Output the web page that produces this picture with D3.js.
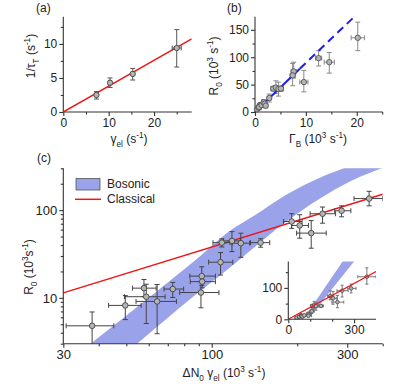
<!DOCTYPE html>
<html>
<head>
<meta charset="utf-8">
<script src="https://cdn.jsdelivr.net/npm/d3@7"></script>
<style>
body { margin: 0; background: #fff; }
text { font-family: "Liberation Sans", Arial, sans-serif; fill: #222; }
</style>
</head>
<body>
<div id="chart"></div>
<script>
// ---- panel (a)
var aGamma = [7.3, 10.3, 15.3, 25.0];
var aGammaErr = [0.3, 0.3, 0.3, 1.0];
var aRate = [2.5, 4.3, 5.6, 9.4];
var aRateLo = [1.9, 3.6, 4.7, 6.6];
var aRateHi = [3.0, 5.0, 6.4, 12.1];
var aLineX = [0, 28.3];
var aLineY = [0, 10.75];

// ---- panel (c) points, also used by (b) and the inset
var cX = [37.9, 49.6, 57.7, 58.8, 64.2, 72.9, 92.2, 92.5, 91.6, 107.4, 108.5, 117.8, 126.6, 148.6, 191.2, 204.1, 224, 245.6, 286.6, 358.3];
var cXLo = [30.7, 43.3, 52.6, 49.3, 54.1, 67.9, 83.7, 84, 77.1, 97.5, 101, 110, 118, 137, 179, 191, 199, 222, 271, 317];
var cXHi = [45.2, 56.4, 63.7, 68.5, 75.1, 79.6, 103, 103, 106, 118.6, 116, 126, 136, 160, 208, 219, 253, 273, 309, 400];
var cR = [4.8, 8.2, 12.9, 10.3, 9.1, 12.6, 17.7, 15.3, 11.5, 25.5, 42.6, 44.6, 42.0, 42.6, 74.2, 66.9, 54.7, 91, 98.4, 135.5];
var cRLo = [2.9, 5.65, 10.3, 5.1, 3.9, 10.1, 13.9, 13, 7.7, 18.2, 38, 33.7, 29.0, 37.8, 62, 47.9, 36.8, 71, 84, 112];
var cRHi = [6.9, 10.6, 16.2, 14.3, 14.2, 15.0, 22.6, 18, 15.3, 32.8, 47, 56.9, 54.6, 47.3, 91, 88.7, 76, 108.5, 112, 164];

// ---- panel (b) Gamma_B for the same points
var bGamma = [0.4, 0.6, 1.0, 0.9, 0.8, 1.3, 1.7, 1.9, 2.1, 2.8, 3.6, 4.1, 4.6, 5.1, 7.6, 7.4, 9.6, 14.6, 12.5, 20.2];
var bGammaErr = [0.3, 0.3, 0.3, 0.3, 0.3, 0.3, 0.4, 0.4, 0.4, 0.4, 0.5, 0.5, 0.5, 0.5, 0.5, 0.5, 0.8, 1.0, 0.6, 1.3];
var bSolidX = [0, 8.8], bSolidY = [0, 79];
var bDashX = [8.8, 19.3], bDashY = [79, 172];

// ---- theory curves of (c)
var bosUpperX = [37, 60, 90, 115, 140, 183, 239, 300];
var bosUpperY = [2.9, 10, 29, 57, 85, 150, 233, 310];
var bosLowerX = [54, 80, 115, 140, 183, 239, 313, 400];
var bosLowerY = [2.9, 8.5, 21.7, 36.8, 74, 134, 219, 303];
// band as it appears in the linear inset
var insetUpperX = [94, 113, 248, 262];
var insetUpperY = [25, 45, 184, 198];
var insetLowerX = [118, 150, 300, 316];
var insetLowerY = [25, 53, 184, 198];
var classX = [0, 30, 400];
var classY = [0, 11.4, 152];

var bandColor = '#9aa2ea';
var redColor = '#ee1515';

var svg = d3.select('#chart').append('svg')
    .attr('width', 415)
    .attr('height', 384);

function richText(sel, parts, size) {
    var shift = 0;
    parts.forEach(function (p) {
        var k = p[1] || 'n';
        var target = k == 'sub' ? size * 0.3 : k == 'sup' ? -size * 0.4 : 0;
        sel.append('tspan')
            .attr('dy', target - shift)
            .attr('font-size', k == 'n' ? size : size * 0.68)
            .text(p[0]);
        shift = target;
    });
}

function axes(g, x, y, xMajor, xMinor, yMajor, yMinor, fs) {
    var h = y.range()[0];
    var gx = g.append('g').attr('transform', 'translate(0,' + h + ')')
        .call(d3.axisBottom(x).tickValues(xMajor).tickSize(4).tickSizeOuter(0).tickPadding(2).tickFormat(d3.format('')));
    var gxm = g.append('g').attr('transform', 'translate(0,' + h + ')')
        .call(d3.axisBottom(x).tickValues(xMinor).tickSize(2.5).tickFormat(''));
    gxm.select('.domain').remove();
    var gy = g.append('g')
        .call(d3.axisLeft(y).tickValues(yMajor).tickSize(4).tickSizeOuter(0).tickPadding(2).tickFormat(d3.format('')));
    var gym = g.append('g')
        .call(d3.axisLeft(y).tickValues(yMinor).tickSize(2.5).tickFormat(''));
    gym.select('.domain').remove();
    g.selectAll('.domain, .tick line').attr('stroke', '#333').attr('stroke-width', 1.1);
    g.selectAll('.tick text').attr('font-size', fs || 12).attr('fill', '#222');
    gx.select('.domain').attr('d', 'M' + x.range()[0] + ',0H' + x.range()[1]);
    gy.select('.domain').attr('d', 'M0,' + y.range()[0] + 'V' + y.range()[1]);
}

function clip(g, id, w, h) {
    g.append('clipPath').attr('id', id)
        .append('rect').attr('width', w).attr('height', h);
    return g.append('g').attr('clip-path', 'url(#' + id + ')');
}

function errorBars(g, x, y, xs, xlo, xhi, ys, ylo, yhi, color, cap) {
    xs.forEach(function (d, i) {
        var px = x(d), py = y(ys[i]);
        var e = g.append('g').attr('stroke', color).attr('stroke-width', 1);
        e.append('line').attr('x1', x(xlo[i])).attr('x2', x(xhi[i])).attr('y1', py).attr('y2', py);
        e.append('line').attr('x1', px).attr('x2', px).attr('y1', y(ylo[i])).attr('y2', y(yhi[i]));
        [xlo[i], xhi[i]].forEach(function (v) {
            e.append('line').attr('x1', x(v)).attr('x2', x(v)).attr('y1', py - cap).attr('y2', py + cap);
        });
        [ylo[i], yhi[i]].forEach(function (v) {
            e.append('line').attr('x1', px - cap).attr('x2', px + cap).attr('y1', y(v)).attr('y2', y(v));
        });
    });
}

function dots(g, x, y, xs, ys, r, stroke) {
    g.selectAll(null).data(xs).enter().append('circle')
        .attr('cx', function (d) { return x(d); })
        .attr('cy', function (d, i) { return y(ys[i]); })
        .attr('r', r)
        .attr('fill', '#b4b4b4')
        .attr('stroke', stroke)
        .attr('stroke-width', 0.9);
}

function segment(g, x, y, xs, ys) {
    return g.append('path')
        .attr('d', d3.line().x(function (d) { return x(d); }).y(function (d, i) { return y(ys[i]); })(xs))
        .attr('fill', 'none');
}

function band(g, x, y, ux, uy, lx, ly) {
    var line = d3.line()
        .x(function (d) { return x(d[0]); })
        .y(function (d) { return y(d[1]); })
        .curve(d3.curveCatmullRom);
    var up = ux.map(function (v, i) { return [v, uy[i]]; });
    var lo = lx.map(function (v, i) { return [v, ly[i]]; }).reverse();
    g.append('path')
        .attr('d', line(up) + 'L' + line(lo).slice(1) + 'Z')
        .attr('fill', bandColor)
        .attr('stroke', 'none');
}

// ================= panel (a)
(function () {
    var left = 63.3, top = 16.7, w = 128.4, h = 95.3;
    var g = svg.append('g').attr('transform', 'translate(' + left + ',' + top + ')');
    var x = d3.scaleLinear().domain([0, 28.3]).range([0, w]);
    var y = d3.scaleLinear().domain([0, 14]).range([h, 0]);
    axes(g, x, y, [0, 10, 20], [5, 15, 25], [0, 5, 10], [2.5, 7.5, 12.5]);
    var pg = clip(g, 'clipA', w, h);
    segment(pg, x, y, aLineX, aLineY).attr('stroke', redColor).attr('stroke-width', 1.5);
    var lo = aGamma.map(function (d, i) { return d - aGammaErr[i]; });
    var hi = aGamma.map(function (d, i) { return d + aGammaErr[i]; });
    errorBars(g, x, y, aGamma, lo, hi, aRate, aRateLo, aRateHi, '#555', 2.5);
    dots(g, x, y, aGamma, aRate, 2.7, '#444');

    svg.append('text').attr('x', 36).attr('y', 12).attr('font-size', 12).text('(a)');
    var ty = svg.append('text').attr('transform', 'translate(35,56) rotate(-90)')
        .attr('text-anchor', 'middle');
    richText(ty, [['1/τ'], ['T', 'sub'], [' (s'], ['-1', 'sup'], [')']], 12);
    var tx = svg.append('text').attr('x', 129).attr('y', 143).attr('text-anchor', 'middle');
    richText(tx, [['γ'], ['el', 'sub'], [' (s'], ['-1', 'sup'], [')']], 12);
})();

// ================= panel (b)
(function () {
    var left = 255, top = 16.7, w = 127.7, h = 95.3;
    var g = svg.append('g').attr('transform', 'translate(' + left + ',' + top + ')');
    var x = d3.scaleLinear().domain([0, 25.1]).range([0, w]);
    var y = d3.scaleLinear().domain([0, 174]).range([h, 0]);
    axes(g, x, y, [0, 10, 20], [5, 15, 25], [0, 50, 100, 150], [25, 75, 125]);
    var lo = bGamma.map(function (d, i) { return d - bGammaErr[i]; });
    var hi = bGamma.map(function (d, i) { return d + bGammaErr[i]; });
    errorBars(g, x, y, bGamma, lo, hi, cR, cRLo, cRHi, '#888', 2.5);
    segment(g, x, y, bSolidX, bSolidY).attr('stroke', '#1e1ee8').attr('stroke-width', 2);
    segment(g, x, y, bDashX, bDashY).attr('stroke', '#1e1ee8').attr('stroke-width', 2)
        .attr('stroke-dasharray', '8,5');
    dots(g, x, y, bGamma, cR, 2.7, '#555');

    svg.append('text').attr('x', 227).attr('y', 12).attr('font-size', 12).text('(b)');
    var ty = svg.append('text').attr('transform', 'translate(218,66) rotate(-90)')
        .attr('text-anchor', 'middle');
    richText(ty, [['R'], ['0', 'sub'], [' (10'], ['3', 'sup'], [' s'], ['-1', 'sup'], [')']], 12);
    var tx = svg.append('text').attr('x', 318).attr('y', 143).attr('text-anchor', 'middle');
    richText(tx, [['Γ'], ['B', 'sub'], [' (10'], ['3', 'sup'], [' s'], ['-1', 'sup'], [')']], 12);
})();

// ================= panel (c)
(function () {
    var left = 63.3, top = 168.3, w = 319.4, h = 175.4;
    var g = svg.append('g').attr('transform', 'translate(' + left + ',' + top + ')');
    var x = d3.scaleLog().domain([30, 400]).range([0, w]);
    var y = d3.scaleLog().domain([3, 300]).range([h, 0]);
    var pg = clip(g, 'clipC', w, h);
    band(pg, x, y, bosUpperX, bosUpperY, bosLowerX, bosLowerY);
    segment(pg, x, y, classX.slice(1), classY.slice(1)).attr('stroke', redColor).attr('stroke-width', 1.5);
    errorBars(pg, x, y, cX, cXLo, cXHi, cR, cRLo, cRHi, '#444', 2.5);
    dots(pg, x, y, cX, cR, 2.8, '#444');
    axes(g, x, y, [30, 100, 300], [40, 50, 60, 70, 80, 90, 200, 400],
        [10, 100], [3, 4, 5, 6, 7, 8, 9, 20, 30, 40, 50, 60, 70, 80, 90, 200, 300], 13);

    // legend
    var lg = g.append('g');
    lg.append('rect').attr('x', 76 - left).attr('y', 178.5 - top).attr('width', 24).attr('height', 11.5)
        .attr('fill', bandColor).attr('stroke', '#555').attr('stroke-width', 0.8);
    lg.append('text').attr('x', 107 - left).attr('y', 188.5 - top).attr('font-size', 12).text('Bosonic');
    lg.append('line').attr('x1', 75 - left).attr('x2', 101 - left).attr('y1', 199.3 - top).attr('y2', 199.3 - top)
        .attr('stroke', redColor).attr('stroke-width', 1.5);
    lg.append('text').attr('x', 107 - left).attr('y', 203.5 - top).attr('font-size', 12).text('Classical');

    svg.append('text').attr('x', 37).attr('y', 162).attr('font-size', 12).text('(c)');
    var ty = svg.append('text').attr('transform', 'translate(33,267) rotate(-90)')
        .attr('text-anchor', 'middle');
    richText(ty, [['R'], ['0', 'sub'], [' (10'], ['3', 'sup'], ['s'], ['-1', 'sup'], [')']], 12);
    var tx = svg.append('text').attr('x', 224).attr('y', 377).attr('text-anchor', 'middle');
    richText(tx, [['ΔN'], ['0', 'sub'], [' γ'], ['el', 'sub'], [' (10'], ['3', 'sup'], [' s'], ['-1', 'sup'], [')']], 12);
})();

// ================= inset of (c)
(function () {
    var left = 288.3, top = 261.5, w = 87.7, h = 57.8;
    var g = svg.append('g').attr('transform', 'translate(' + left + ',' + top + ')');
    var x = d3.scaleLinear().domain([0, 400]).range([0, w]);
    var y = d3.scaleLinear().domain([0, 184]).range([h, 0]);
    var pg = clip(g, 'clipI', w, h);
    band(pg, x, y, insetUpperX, insetUpperY, insetLowerX, insetLowerY);
    errorBars(pg, x, y, cX, cXLo, cXHi, cR, cRLo, cRHi, '#777', 1.5);
    dots(pg, x, y, cX, cR, 1.8, '#555');
    segment(pg, x, y, [classX[0], classX[2]], [classY[0], classY[2]]).attr('stroke', redColor).attr('stroke-width', 1.3);
    axes(g, x, y, [0, 300], [100, 200], [0, 100], [50, 150]);
})();
</script>
</body>
</html>
